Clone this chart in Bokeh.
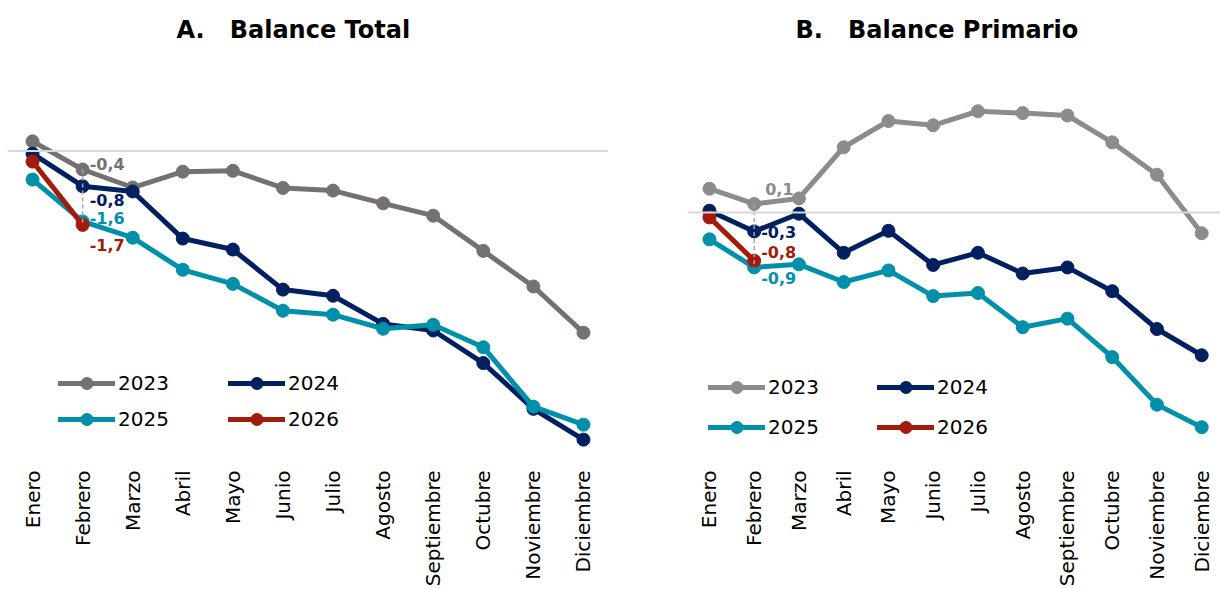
import math
from bokeh.plotting import figure
from bokeh.models import Span, FixedTicker, Legend, LegendItem, Range1d, ColumnDataSource
from bokeh.layouts import row
from bokeh.embed import file_html
from bokeh.resources import INLINE
from bokeh.core.properties import value

months = ["Enero", "Febrero", "Marzo", "Abril", "Mayo", "Junio", "Julio",
          "Agosto", "Septiembre", "Octubre", "Noviembre", "Diciembre"]
years = ["2023", "2024", "2025", "2026"]

# A. Balance Total
total_2023 = [0.22, -0.42, -0.83, -0.47, -0.45, -0.84, -0.90, -1.19, -1.47, -2.27, -3.08, -4.13]
total_2024 = [-0.06, -0.80, -0.92, -1.99, -2.24, -3.15, -3.29, -3.93, -4.08, -4.82, -5.86, -6.56]
total_2025 = [-0.65, -1.60, -1.97, -2.70, -3.02, -3.63, -3.72, -4.04, -3.95, -4.46, -5.81, -6.22]
total_2026 = [-0.24, -1.68]

# B. Balance Primario
primario_2023 = [0.39, 0.14, 0.23, 1.07, 1.50, 1.43, 1.66, 1.63, 1.59, 1.15, 0.62, -0.34]
primario_2024 = [0.03, -0.31, -0.02, -0.66, -0.30, -0.86, -0.66, -1.00, -0.90, -1.29, -1.91, -2.34]
primario_2025 = [-0.44, -0.90, -0.85, -1.14, -0.95, -1.37, -1.32, -1.88, -1.74, -2.37, -3.15, -3.52]
primario_2026 = [-0.08, -0.79]

NAVY = "#002060"
TEAL = "#0090AA"
RED = "#A51B0B"
FONT = "DejaVu Sans"


def fmt(v):
    return f"{v:.1f}".replace(".", ",")


def make_panel(title, series, grey, width, min_left, x_rng, y_rng, title_offset,
               leg_x, leg_y, leg_spacing, label_dx, label_dy):
    colors = [grey, NAVY, TEAL, RED]
    p = figure(width=width, height=589, output_backend="svg", toolbar_location=None,
               x_range=Range1d(*x_rng), y_range=Range1d(*y_rng),
               y_axis_location=None,
               min_border_left=min_left, min_border_right=0,
               min_border_top=60, min_border_bottom=131)
    p.outline_line_color = None
    p.xgrid.visible = False
    p.ygrid.visible = False
    p.background_fill_color = "white"
    p.border_fill_color = "white"

    p.title.text = title
    p.title.align = "left"
    p.title.vertical_align = "top"
    p.title.offset = title_offset
    p.title.standoff = 30
    p.title.text_font = FONT
    p.title.text_font_size = "24px"
    p.title.text_font_style = "bold"
    p.title.text_color = "black"

    ax = p.xaxis[0]
    ax.ticker = FixedTicker(ticks=list(range(12)))
    ax.major_label_overrides = {i: m for i, m in enumerate(months)}
    ax.major_label_orientation = math.pi / 2
    ax.major_label_text_font = FONT
    ax.major_label_text_font_size = "20px"
    ax.major_label_text_color = "black"
    ax.major_label_standoff = 6
    ax.axis_line_color = None
    ax.major_tick_line_color = None
    ax.minor_tick_line_color = None

    p.add_layout(Span(location=0, dimension="width", line_color="#D9D9D9", line_width=2))

    items = []
    for yr, vals, c in zip(years, series, colors):
        xs = list(range(len(vals)))
        lr = p.line(xs, vals, line_color=c, line_width=5, line_join="round", line_cap="round")
        sr = p.scatter(xs, vals, size=13, fill_color=c, line_color=c)
        items.append(LegendItem(label=yr, renderers=[lr, sr]))

    feb = [s[1] for s in series]
    p.segment(x0=[1], y0=[max(feb)], x1=[1], y1=[min(feb)],
              line_color="#A6A6A6", line_width=1.5, line_dash="4 3")

    src = ColumnDataSource(dict(x=[1] * 4, y=feb, t=[fmt(v) for v in feb], c=colors,
                                dx=label_dx, dy=label_dy))
    p.text(x="x", y="y", text="t", text_color="c", x_offset="dx", y_offset="dy", source=src,
           text_font=value(FONT), text_font_style="bold", text_font_size="16px",
           text_baseline="middle", text_align="left")

    for col, its in enumerate([[items[0], items[2]], [items[1], items[3]]]):
        leg = Legend(items=its, location=(leg_x[col], leg_y), orientation="vertical",
                     spacing=leg_spacing, padding=0, margin=0,
                     glyph_width=57, glyph_height=30, label_height=20, label_standoff=3,
                     label_text_font=FONT, label_text_font_size="20px",
                     label_text_color="black",
                     border_line_color=None, background_fill_alpha=0)
        p.add_layout(leg)
    return p


pa = make_panel("A.\u00a0\u00a0\u00a0Balance Total",
                [total_2023, total_2024, total_2025, total_2026], "#767171",
                width=608, min_left=7, x_rng=(-0.5, 11.5), y_rng=(-6.989, 2.057),
                title_offset=169,
                leg_x=(51, 221), leg_y=24, leg_spacing=6,
                label_dx=[7, 7, 7, 7], label_dy=[-5, 14, -3, 20])

pb = make_panel("B.\u00a0\u00a0\u00a0Balance Primario",
                [primario_2023, primario_2024, primario_2025, primario_2026], "#8C8C8C",
                width=612, min_left=79, x_rng=(-0.49, 11.42), y_rng=(-4.033, 2.492),
                title_offset=108,
                leg_x=(21, 190), leg_y=16, leg_spacing=10,
                label_dx=[11, 7, 7, 7], label_dy=[-15, 1, 11, -9])

layout = row(pa, pb)
open("out.html", "w").write(file_html(layout, INLINE))
